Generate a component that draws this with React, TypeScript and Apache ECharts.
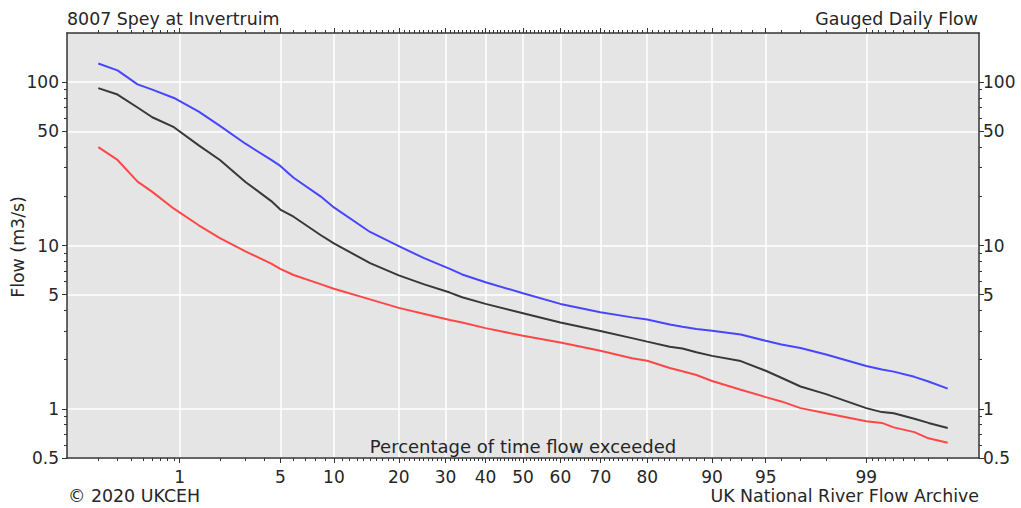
import React, { useEffect, useRef } from "react";
import * as echarts from "echarts";

// Percentage of time flow exceeded (x) and flows in m3/s (y)
const percentExceeded = [0.2, 0.3, 0.45, 0.6, 0.9, 1.4, 2, 3, 4.4, 5, 6, 8.5, 10, 15, 20, 25, 31, 34, 40, 50, 60, 70, 77, 80, 84, 86, 88, 90, 93, 95, 96, 97, 98, 99, 99.25, 99.4, 99.6, 99.7, 99.8];
const upperFlow = [130, 118, 97, 90, 80, 66, 54, 42, 33.4, 30.7, 26, 20, 17.1, 12.1, 9.9, 8.4, 7.2, 6.65, 5.96, 5.1, 4.39, 3.9, 3.63, 3.52, 3.28, 3.18, 3.08, 3.01, 2.85, 2.61, 2.48, 2.36, 2.15, 1.83, 1.74, 1.69, 1.57, 1.47, 1.33];
const meanFlow = [92, 84, 70, 61, 53, 41, 33.4, 24.5, 18.7, 16.6, 15, 11.6, 10.3, 7.8, 6.56, 5.8, 5.15, 4.82, 4.39, 3.85, 3.38, 3.0, 2.71, 2.58, 2.4, 2.34, 2.22, 2.11, 1.96, 1.71, 1.55, 1.37, 1.23, 1.01, 0.955, 0.94, 0.87, 0.82, 0.764];
const lowerFlow = [40, 33.4, 24.6, 21.3, 16.8, 13.3, 11.1, 9.2, 7.75, 7.2, 6.6, 5.8, 5.43, 4.68, 4.15, 3.82, 3.5, 3.38, 3.12, 2.8, 2.55, 2.27, 2.04, 1.97, 1.78, 1.7, 1.61, 1.48, 1.31, 1.18, 1.11, 1.01, 0.94, 0.84, 0.82, 0.77, 0.72, 0.66, 0.62];

const xTickPercents = [1, 5, 10, 20, 30, 40, 50, 60, 70, 80, 90, 95, 99];
const xRange = [0.1, 99.9];
const yTickValues = [0.5, 1, 5, 10, 50, 100];
const yMinorValues = [0.6, 0.7, 0.8, 0.9, 2, 3, 4, 6, 7, 8, 9, 20, 30, 40, 60, 70, 80, 90];
const yRange = [0.5, 200];

function buildMinorPercents(): number[] {
  const out: number[] = [];
  for (let i = 2; i <= 9; i++) out.push(i / 10);
  for (let i = 2; i <= 9; i++) if (i !== 5) out.push(i);
  for (let i = 11; i <= 98; i++) if (i % 10 !== 0 && i !== 95) out.push(i);
  for (let i = 1; i <= 8; i++) out.push(99 + i / 10);
  return out;
}
const xMinorPercents = buildMinorPercents();

// inverse standard normal CDF (Acklam)
function probit(p: number): number {
  const a = [-3.969683028665376e1, 2.209460984245205e2, -2.759285104469687e2, 1.38357751867269e2, -3.066479806614716e1, 2.506628277459239];
  const b = [-5.447609879822406e1, 1.615858368580409e2, -1.556989798598866e2, 6.680131188771972e1, -1.328068155288572e1];
  const c = [-7.784894002430293e-3, -3.223964580411365e-1, -2.400758277161838, -2.549732539343734, 4.374664141464968, 2.938163982698783];
  const d = [7.784695709041462e-3, 3.224671290700398e-1, 2.445134137142996, 3.754408661907416];
  const pl = 0.02425;
  if (p < pl) {
    const q = Math.sqrt(-2 * Math.log(p));
    return (((((c[0] * q + c[1]) * q + c[2]) * q + c[3]) * q + c[4]) * q + c[5]) / ((((d[0] * q + d[1]) * q + d[2]) * q + d[3]) * q + 1);
  }
  if (p <= 1 - pl) {
    const q = p - 0.5;
    const r = q * q;
    return ((((((a[0] * r + a[1]) * r + a[2]) * r + a[3]) * r + a[4]) * r + a[5]) * q) / (((((b[0] * r + b[1]) * r + b[2]) * r + b[3]) * r + b[4]) * r + 1);
  }
  const q = Math.sqrt(-2 * Math.log(1 - p));
  return -(((((c[0] * q + c[1]) * q + c[2]) * q + c[3]) * q + c[4]) * q + c[5]) / ((((d[0] * q + d[1]) * q + d[2]) * q + d[3]) * q + 1);
}
const zOf = (pct: number) => probit(pct / 100);

const FONT = "DejaVu Sans";
const TEXT_COLOR = "#262626";
const AXIS_COLOR = "#333";

export default function App() {
  const ref = useRef<HTMLDivElement>(null);
  useEffect(() => {
    if (!ref.current) return;
    const chart = echarts.init(ref.current, undefined, { renderer: "svg" });
    const xMajorZ = xTickPercents.map(zOf);
    const xMinorZ = xMinorPercents.map(zOf);
    const xMin = zOf(xRange[0]);
    const xMax = zOf(xRange[1]);
    const xLabel = (v: number) => {
      let best = xTickPercents[0];
      let bd = Infinity;
      xTickPercents.forEach((p) => {
        const dd = Math.abs(zOf(p) - v);
        if (dd < bd) {
          bd = dd;
          best = p;
        }
      });
      return String(best);
    };
    const yLabel = (v: number) => String(Math.round(v * 1000) / 1000);
    const labelStyle = { color: TEXT_COLOR, fontSize: 17, fontFamily: FONT };

    const xAxis = (pos: string, major: boolean) => ({
      type: "value",
      position: pos,
      min: xMin,
      max: xMax,
      axisLine: { show: major, onZero: false, lineStyle: { color: AXIS_COLOR, width: 1.5 } },
      axisTick: { show: true, inside: false, length: major ? 5 : 3, customValues: major ? xMajorZ : xMinorZ, lineStyle: { color: AXIS_COLOR, width: 1 } },
      axisLabel: { show: major && pos === "bottom", customValues: major ? xMajorZ : xMinorZ, formatter: xLabel, margin: 10, ...labelStyle },
      splitLine: { show: major && pos === "bottom", lineStyle: { color: "#ffffff", width: 1.5 } },
    });
    const yAxis = (pos: string, major: boolean) => ({
      type: "log",
      logBase: 10,
      position: pos,
      min: yRange[0],
      max: yRange[1],
      axisLine: { show: major, onZero: false, lineStyle: { color: AXIS_COLOR, width: 1.5 } },
      axisTick: { show: true, inside: false, length: major ? 5 : 3, customValues: major ? yTickValues : yMinorValues, lineStyle: { color: AXIS_COLOR, width: 1 } },
      axisLabel: { show: major, customValues: major ? yTickValues : yMinorValues, formatter: yLabel, margin: pos === "left" ? 8 : 4, ...labelStyle },
      splitLine: { show: major && pos === "left", lineStyle: { color: "#ffffff", width: 1.5 } },
    });

    const mk = (vals: number[]) => percentExceeded.map((p, i) => [zOf(p), vals[i]]);
    const line = (name: string, vals: number[], color: string) => ({
      name,
      type: "line",
      xAxisIndex: 0,
      yAxisIndex: 0,
      data: mk(vals),
      symbol: "none",
      showSymbol: false,
      lineStyle: { color, width: 2 },
      itemStyle: { color },
      z: 5,
    });

    const txt = (text: string, x: number, y: number, align: string, size: number, rotation = 0) => ({
      type: "text",
      x,
      y,
      rotation,
      z: 100,
      style: { text, fill: TEXT_COLOR, font: `${size}px "${FONT}"`, align, verticalAlign: "middle" },
    });

    chart.setOption({
      animation: false,
      backgroundColor: "#ffffff",
      grid: { left: 67, right: 42, top: 33, bottom: 50, show: true, backgroundColor: "#e5e5e5", borderWidth: 0 },
      xAxis: [xAxis("bottom", true), xAxis("bottom", false), xAxis("top", true), xAxis("top", false)],
      yAxis: [yAxis("left", true), yAxis("left", false), yAxis("right", true), yAxis("right", false)],
      series: [
        line("Upper", upperFlow, "#4646ff"),
        line("Mean", meanFlow, "#383838"),
        line("Lower", lowerFlow, "#ff4646"),
      ],
      graphic: [
        txt("8007 Spey at Invertruim", 67, 19, "left", 17.4),
        txt("Gauged Daily Flow", 978, 19, "right", 17.4),
        txt("Flow (m3/s)", 18, 247, "center", 17.4, Math.PI / 2),
        txt("Percentage of time flow exceeded", 523, 446, "center", 18),
        txt("© 2020 UKCEH", 68, 496, "left", 17.4),
        txt("UK National River Flow Archive", 979, 496, "right", 17.4),
      ],
    });
    return () => chart.dispose();
  }, []);
  return <div ref={ref} style={{ position: "fixed", left: 0, top: 0, width: 1021, height: 508 }} />;
}
